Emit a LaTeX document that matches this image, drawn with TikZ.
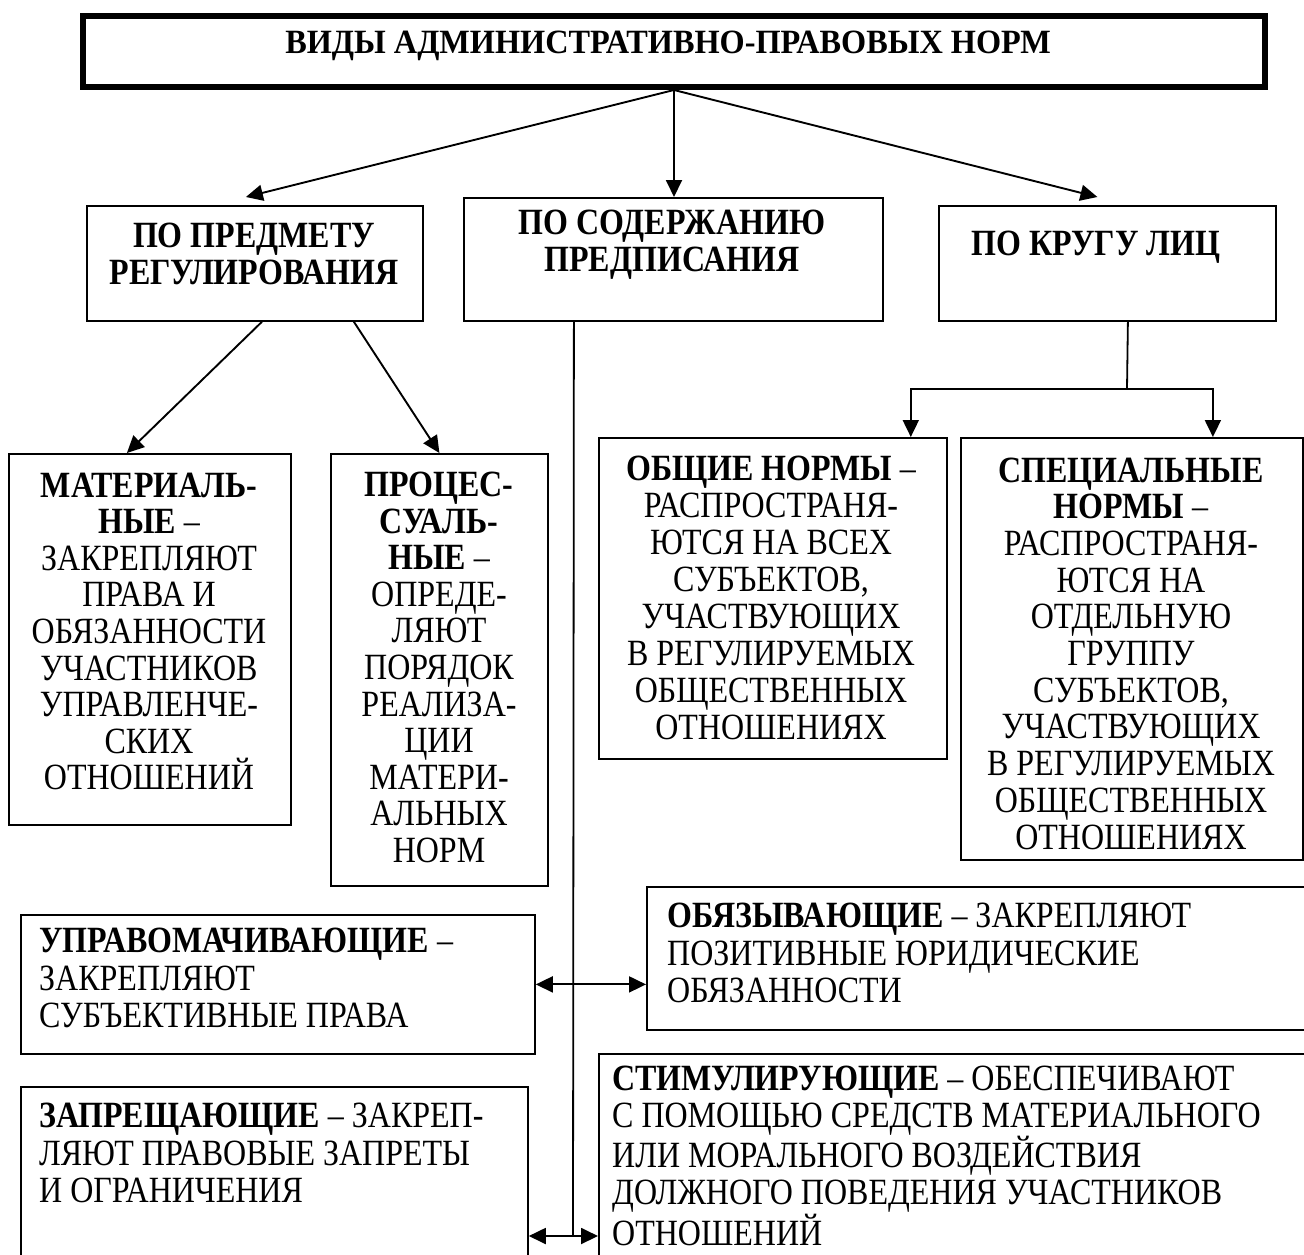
\documentclass[tikz,border=0pt]{standalone}
\usepackage{fontspec}
\setmainfont{Liberation Serif}[FakeStretch=0.865]
\newfontfamily\titlefont{Liberation Serif}[FakeStretch=0.95]
\usetikzlibrary{arrows.meta,calc}
\tikzset{
  box/.style={draw, line width=1.8pt, inner sep=0pt, anchor=north west},
  ctext/.style={inner sep=0pt, align=center, font=\fontsize{37}{36.6}\selectfont},
  ltext/.style={inner sep=0pt, align=left, anchor=north west, font=\fontsize{37}{37.5}\selectfont},
  conn/.style={line width=1.9pt, -{Triangle[length=17pt,width=16pt]}},
  dconn/.style={line width=1.9pt, {Triangle[length=17pt,width=16pt]}-{Triangle[length=17pt,width=16pt]}},
  plain/.style={line width=1.8pt}
}
\begin{document}
\begin{tikzpicture}[x=1pt,y=-1pt]
\clip (0,0) rectangle (1304,1254);
\fill[white] (0,0) rectangle (1304,1254);

% boxes
\node[box, line width=6pt, minimum width=1182pt, minimum height=71.5pt] (T) at (80,12.5) {};
\node[box, minimum width=336pt, minimum height=115pt] (A) at (86,205) {};
\node[box, minimum width=419pt, minimum height=123pt] (B) at (463,197) {};
\node[box, minimum width=337pt, minimum height=115pt] (C) at (938,205) {};
\node[box, minimum width=282pt, minimum height=371pt] (M) at (8,453) {};
\node[box, minimum width=217pt, minimum height=432pt] (P) at (330,453) {};
\node[box, minimum width=348pt, minimum height=321pt] (G) at (598,437) {};
\node[box, minimum width=342pt, minimum height=422pt] (S) at (960,437) {};
\node[box, minimum width=514pt, minimum height=139pt] (U) at (20,914) {};
\node[box, minimum width=674pt, minimum height=143pt] (O) at (646,886) {};
\node[box, minimum width=507pt, minimum height=194pt] (Z) at (20,1086) {};
\node[box, minimum width=722pt, minimum height=227pt] (St) at (598,1053) {};

% texts
\node[ctext, font=\titlefont\bfseries\fontsize{34}{36}\selectfont] (Tt) at (668,46) {ВИДЫ АДМИНИСТРАТИВНО-ПРАВОВЫХ НОРМ};
\node[ctext, font=\bfseries\fontsize{37}{37}\selectfont] (At) at (254,254) {ПО ПРЕДМЕТУ\\РЕГУЛИРОВАНИЯ};
\node[ctext, font=\bfseries\fontsize{37}{37}\selectfont] (Bt) at (672,245) {ПО СОДЕРЖАНИЮ\\ПРЕДПИСАНИЯ};
\node[ctext, font=\bfseries\fontsize{37}{37}\selectfont] (Ct) at (1096,247) {ПО КРУГУ ЛИЦ};
\node[ctext] (Mt) at (149,631.5) {\textbf{МАТЕРИАЛЬ-}\\\textbf{НЫЕ} –\\ЗАКРЕПЛЯЮТ\\ПРАВА И\\ОБЯЗАННОСТИ\\УЧАСТНИКОВ\\УПРАВЛЕНЧЕ-\\СКИХ\\ОТНОШЕНИЙ};
\node[ctext] (Pt) at (439,667.5) {\textbf{ПРОЦЕС-}\\\textbf{СУАЛЬ-}\\\textbf{НЫЕ} –\\ОПРЕДЕ-\\ЛЯЮТ\\ПОРЯДОК\\РЕАЛИЗА-\\ЦИИ\\МАТЕРИ-\\АЛЬНЫХ\\НОРМ};
\node[ctext, font=\fontsize{37}{37.1}\selectfont] (Gt) at (771,598) {\textbf{ОБЩИЕ НОРМЫ} –\\РАСПРОСТРАНЯ-\\ЮТСЯ НА ВСЕХ\\СУБЪЕКТОВ,\\УЧАСТВУЮЩИХ\\В РЕГУЛИРУЕМЫХ\\ОБЩЕСТВЕННЫХ\\ОТНОШЕНИЯХ};
\node[ctext, font=\fontsize{37}{36.7}\selectfont] (Sxt) at (1131,653.5) {\textbf{СПЕЦИАЛЬНЫЕ}\\\textbf{НОРМЫ} –\\РАСПРОСТРАНЯ-\\ЮТСЯ НА\\ОТДЕЛЬНУЮ\\ГРУППУ\\СУБЪЕКТОВ,\\УЧАСТВУЮЩИХ\\В РЕГУЛИРУЕМЫХ\\ОБЩЕСТВЕННЫХ\\ОТНОШЕНИЯХ};
\node[ltext] (Ut) at (39,928) {\textbf{УПРАВОМАЧИВАЮЩИЕ} –\\ЗАКРЕПЛЯЮТ\\СУБЪЕКТИВНЫЕ ПРАВА};
\node[ltext] (Ot) at (667,903) {\textbf{ОБЯЗЫВАЮЩИЕ} – ЗАКРЕПЛЯЮТ\\ПОЗИТИВНЫЕ ЮРИДИЧЕСКИЕ\\ОБЯЗАННОСТИ};
\node[ltext] (Zt) at (39,1103) {\textbf{ЗАПРЕЩАЮЩИЕ} – ЗАКРЕП-\\ЛЯЮТ ПРАВОВЫЕ ЗАПРЕТЫ\\И ОГРАНИЧЕНИЯ};
\node[ltext, font=\fontsize{37}{37}\selectfont] (STt) at (612,1066) {\textbf{СТИМУЛИРУЮЩИЕ} – ОБЕСПЕЧИВАЮТ\\С ПОМОЩЬЮ СРЕДСТВ МАТЕРИАЛЬНОГО\\ИЛИ МОРАЛЬНОГО ВОЗДЕЙСТВИЯ\\ДОЛЖНОГО ПОВЕДЕНИЯ УЧАСТНИКОВ\\ОТНОШЕНИЙ};

% connectors from the title
\draw[conn] (T.south) -- ($(A.north)+(-9,-8)$);
\draw[conn] (T.south) -- (T.south |- B.north);
\draw[conn] (T.south) -- ($(C.north)+(-10,-8)$);

% by subject
\draw[conn] ($(A.south)+(7,0)$) -- ($(M.north)+(-23,0)$);
\draw[conn] ($(A.south)+(99,0)$) -- (P.north);

% by content
\coordinate (Vb) at (573,1236);
\draw[plain] ($(B.south)+(-99.5,0)$) -- (Vb);
\draw[dconn] (U.east) -- (O.west |- U.east);
\draw[dconn] ($(Z.north east)+(0,150)$) -- ($(St.north west)+(0,183)$);

% by circle of persons
\coordinate (Cj) at (1127,389);
\draw[plain] ($(C.south)+(20.5,0)$) -- (Cj);
\draw[conn] (Cj) -| ($(G.north east)+(-37,0)$);
\draw[conn] (Cj) -| ($(S.north)+(81,0)$);
\end{tikzpicture}
\end{document}
